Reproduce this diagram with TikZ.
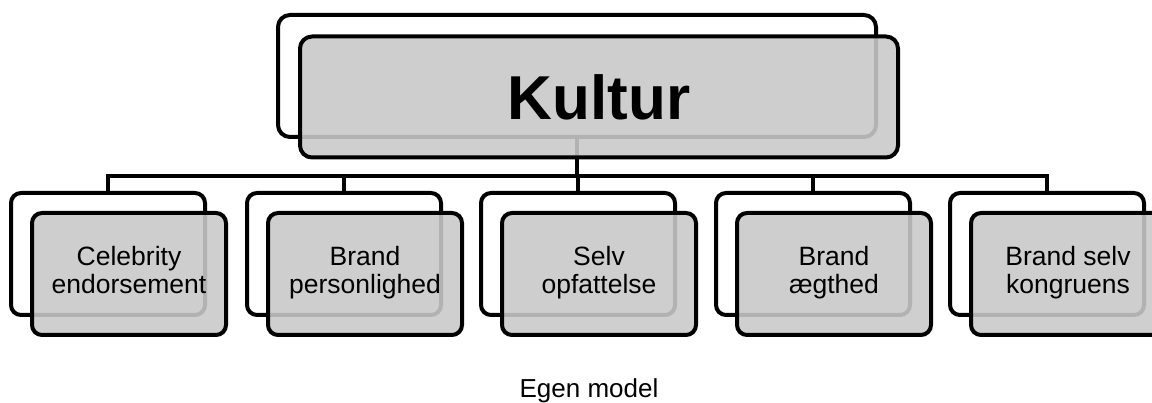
\documentclass[tikz,border=0pt]{standalone}
\usepackage{fontspec}
\setmainfont{Liberation Sans}
\usetikzlibrary{backgrounds}
\newcommand{\twolines}[2]{\strut #1\\\strut #2}
\begin{document}
\begin{tikzpicture}[x=1pt,y=-1pt,
  backframe/.style={draw=black, line width=4pt, fill=white, rounded corners=10pt, inner sep=0pt},
  frontbox/.style={draw=black, line width=4pt, fill={rgb,1:red,0.79;green,0.79;blue,0.79}, fill opacity=0.89, text opacity=1, rounded corners=10pt, inner sep=0pt, align=center},
  link/.style={draw=black, line width=4pt},
  childback/.style={backframe, minimum width=194pt, minimum height=122pt},
  childfront/.style={frontbox, minimum width=194pt, minimum height=122pt, font=\fontsize{26.5}{28}\selectfont},
]
\useasboundingbox (0,0) rectangle (1152,403);
\clip (0,0) rectangle (1152,403);

% top level back frame and the connector hub
\node[backframe, minimum width=598pt, minimum height=122pt, rounded corners=12pt] (topback) at (577,76) {};
\coordinate (hub) at (577,176);

% second level back frames
\foreach \i/\cx in {1/108, 2/344, 3/578, 4/813, 5/1047}
  \node[childback] (b\i) at (\cx,254) {};

% connectors from the top frame down to each child frame
\begin{scope}[on background layer]
\draw[link] (topback.south) -- (hub);
\foreach \i in {1,...,5}
  \draw[link] (hub) -| (b\i.north);
\end{scope}

% front boxes with labels
\node[frontbox, minimum width=598pt, minimum height=121pt, rounded corners=12pt, font=\fontsize{62}{70}\selectfont\bfseries] (kultur) at (599,97) {Kultur};

\node[childfront] (f1) at (129,274) {\twolines{Celebrity}{endorsement}};
\node[childfront] (f2) at (365,274) {\twolines{Brand}{personlighed}};
\node[childfront] (f3) at (599,274) {\twolines{Selv}{opfattelse}};
\node[childfront] (f4) at (834,274) {\twolines{Brand}{ægthed}};
\node[childfront] (f5) at (1068,274) {\twolines{Brand selv}{kongruens}};

% caption
\node[anchor=base, font=\fontsize{26}{28}\selectfont, inner sep=0pt] (caption) at (589,398) {Egen model};
\end{tikzpicture}
\end{document}
